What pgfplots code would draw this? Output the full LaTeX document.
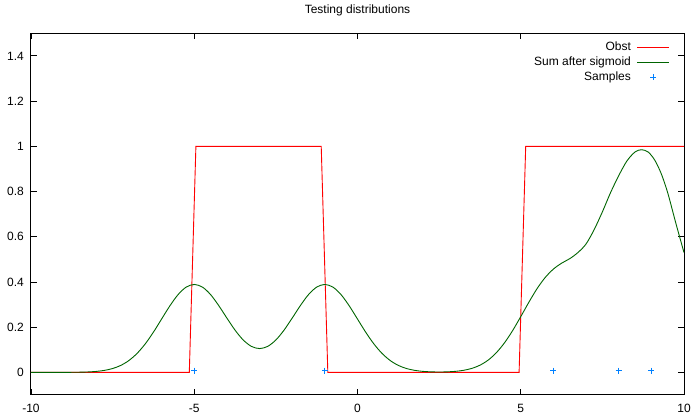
\documentclass[border=0pt]{standalone}
\usepackage{fontspec}
\setmainfont{Liberation Sans}
\usepackage{pgfplots}
\pgfplotsset{compat=1.18}
\definecolor{gred}{RGB}{255,0,0}
\definecolor{ggreen}{RGB}{0,100,0}
\definecolor{gblue}{RGB}{0,128,255}
\begin{document}
\fontsize{12}{14}\selectfont
\begin{tikzpicture}[x=1pt,y=1pt]
\useasboundingbox (0,0) rectangle (694,414);
\begin{axis}[at={(31pt,19pt)}, anchor=south west, scale only axis,
  width=653pt, height=361.7pt,
  xmin=-10, xmax=10, ymin=-0.1, ymax=1.5,
  xtick={-10,-5,0,5,10}, xticklabels={-10,-5,0,5,10},
  ytick={0,0.2,0.4,0.6,0.8,1,1.2,1.4}, yticklabels={0,0.2,0.4,0.6,0.8,1,1.2,1.4},
  tick align=inside, major tick length=6pt,
  tick style={black, line width=0.8pt},
  axis line style={line width=1pt},
  xticklabel style={inner sep=0pt, yshift=-9pt},
  yticklabel style={inner sep=0pt, xshift=-7pt},
  title={Testing distributions},
  title style={at={(0.5,1)}, anchor=base, yshift=14pt, inner sep=0pt},
  legend plot pos=right,
  legend cell align=right,
  legend style={at={(1,1)}, anchor=north east, xshift=-14pt, yshift=-6.5pt,
    draw=none, fill=none, inner sep=0pt, row sep=0pt,
    font=\fontsize{12}{14}\selectfont,
    cells={anchor=east, text height=9pt, text depth=3pt, inner sep=1.15pt},
    /tikz/every odd column/.append style={column sep=4pt}},
]
\addplot[color=gred, line width=0.9pt,
  legend image code/.code={\draw[color=gred, line width=0.9pt] (0pt,0pt) -- (32pt,0pt);}] coordinates {
(-10,0) (-5.1515,0) (-4.9495,1) (-1.1111,1) (-0.9091,0) (4.9495,0) (5.1515,1) (10,1)};
\addlegendentry{Obst}
\addplot[color=ggreen, line width=0.9pt, smooth,
  legend image code/.code={\draw[color=ggreen, line width=0.9pt] (0pt,0pt) -- (32pt,0pt);}] table {
x y
-10 0.0000
-9.5 0.00002
-9 0.00013
-8.5 0.00085
-8.25 0.0020
-8 0.0043
-7.75 0.0089
-7.5 0.0171
-7.25 0.0309
-7 0.0527
-6.75 0.0841
-6.5 0.1263
-6.25 0.1780
-6 0.2360
-5.75 0.2936
-5.5 0.3433
-5.25 0.3770
-5 0.3890
-4.75 0.3774
-4.5 0.3442
-4.25 0.2955
-4 0.2402
-3.75 0.1869
-3.5 0.1433
-3.25 0.1151
-3 0.1053
-2.75 0.1151
-2.5 0.1433
-2.25 0.1869
-2 0.2402
-1.75 0.2955
-1.5 0.3442
-1.25 0.3774
-1 0.3890
-0.75 0.3770
-0.5 0.3433
-0.25 0.2936
0 0.2360
0.25 0.1780
0.5 0.1263
0.75 0.0841
1 0.0527
1.25 0.0309
1.5 0.0171
1.75 0.0090
2 0.0045
2.25 0.0024
2.5 0.0017
2.75 0.0024
3 0.0046
3.25 0.0092
3.5 0.0175
3.75 0.0318
4 0.0541
4.25 0.0867
4.5 0.1304
4.75 0.1846
5 0.2466
5.25 0.3106
5.5 0.3705
5.75 0.4200
6 0.4570
6.25 0.4830
6.5 0.5030
6.75 0.5300
7.0 0.5680
7.25 0.6320
7.5 0.7100
7.75 0.7950
8.0 0.8700
8.25 0.9350
8.5 0.9750
8.7 0.9850
8.9 0.9750
9.1 0.9400
9.3 0.8800
9.5 0.7950
9.75 0.6600
10 0.5300
};
\addlegendentry{Sum after sigmoid}
\addplot[color=gblue, only marks, mark=+, mark size=3pt, line width=0.8pt,
  legend image code/.code={\draw[color=gblue, line width=0.8pt] plot[mark=+, mark size=3pt] coordinates {(16pt,0pt)}; \path (0pt,0pt) (32pt,0pt);}] coordinates {
(-5,0.008) (-1,0.008) (6,0.008) (8,0.008) (9,0.008)};
\addlegendentry{Samples}
\end{axis}
\end{tikzpicture}
\end{document}
